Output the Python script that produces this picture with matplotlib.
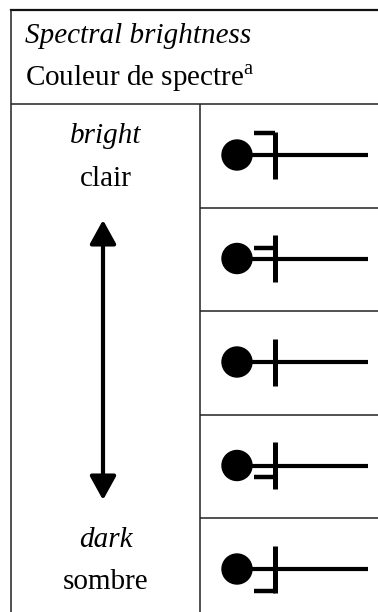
import matplotlib
matplotlib.use("Agg")
import matplotlib.pyplot as plt
from matplotlib.patches import Circle, FancyArrowPatch

plt.rcParams['font.family'] = ['Liberation Serif', 'DejaVu Serif']
plt.rcParams['mathtext.fontset'] = 'custom'
plt.rcParams['mathtext.rm'] = 'Liberation Serif'

# header text
title_en = "Spectral brightness"
title_fr = "Couleur de spectre"
footnote = "a"

# scale ends: (english, french)
top_label = ("bright", "clair")
bottom_label = ("dark", "sombre")

# flag position on the tick for each row, from bright to dark
# +1 = at top of tick, 0.5 = halfway up, None = no flag, -0.5, -1 = bottom
flag_pos = [1.0, 0.5, None, -0.5, -1.0]

W, H = 378, 612
fig = plt.figure(figsize=(W / 100, H / 100), dpi=100)
ax = fig.add_axes([0, 0, 1, 1])
ax.set_xlim(0, W)
ax.set_ylim(H, 0)
ax.axis('off')

fs = 21
line_kw = dict(color='#222222', lw=1.1, solid_capstyle='butt')
left, top, head_bot, split = 11, 10, 104, 200
row_h = 103.5

# frame
ax.plot([left, W], [top, top], color='#111111', lw=1.6)
ax.plot([left, left], [top, H], **line_kw)
ax.plot([left, W], [head_bot, head_bot], **line_kw)
ax.plot([split, split], [head_bot, H], **line_kw)

# header
ax.text(25, 36, title_en, fontsize=fs, style='italic', va='center', ha='left')
ax.text(25, 78, title_fr + r"$^{\mathrm{" + footnote + "}}$", fontsize=fs,
        va='center', ha='left')

# left column
mid = (left + split) / 2
ax.text(mid, 136, top_label[0], fontsize=fs, style='italic', ha='center', va='center')
ax.text(mid, 179, top_label[1], fontsize=fs, ha='center', va='center')
ax.text(mid, 540, bottom_label[0], fontsize=fs, style='italic', ha='center', va='center')
ax.text(mid, 582, bottom_label[1], fontsize=fs, ha='center', va='center')
arr = FancyArrowPatch((103, 500), (103, 220),
                      arrowstyle='<|-|>,head_length=1.45,head_width=0.8',
                      mutation_scale=10, lw=3.0, color='black',
                      shrinkA=0, shrinkB=0)
ax.add_patch(arr)

# glyph rows
cx, r, tick_x, half = 237, 15, 274.5, 23.5
for i, fp in enumerate(flag_pos):
    y0 = head_bot + i * row_h
    if i > 0:
        ax.plot([split, W], [y0, y0], **line_kw)
    cy = y0 + 51
    ax.add_patch(Circle((cx, cy), r, color='black'))
    ax.plot([cx, 368], [cy, cy], color='black', lw=3.0, solid_capstyle='butt')
    ax.plot([tick_x, tick_x], [cy - half, cy + half], color='black', lw=3.6,
            solid_capstyle='butt')
    if fp is not None:
        fy = cy - fp * (half - 1.5)
        ax.plot([254, tick_x], [fy, fy], color='black', lw=3.2, solid_capstyle='butt')

fig.savefig("out.png", dpi=100)
